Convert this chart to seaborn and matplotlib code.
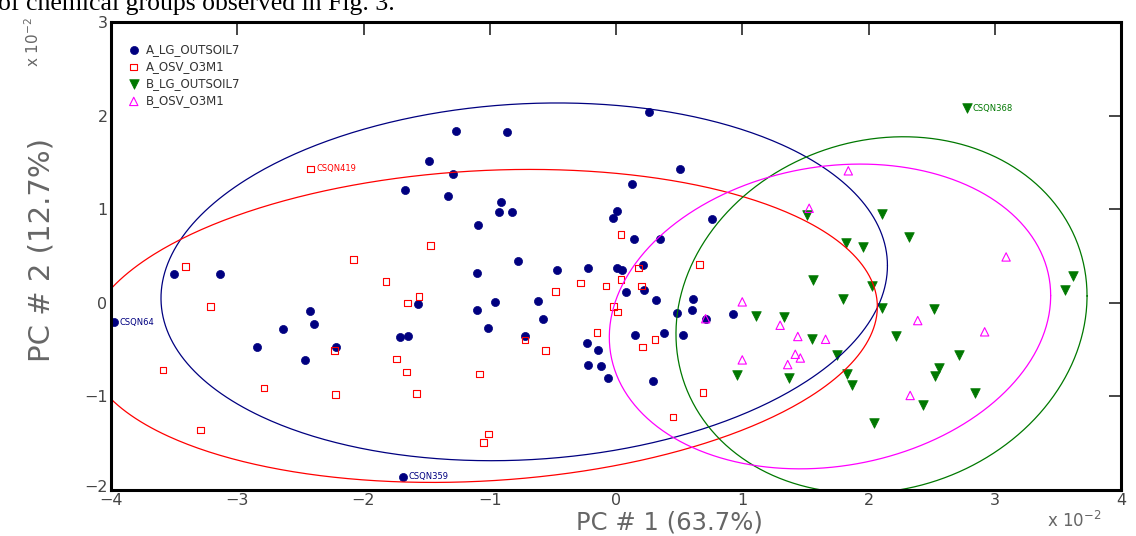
import numpy as np
import pandas as pd
import seaborn as sns
import matplotlib
matplotlib.use('Agg')
import matplotlib.pyplot as plt
import matplotlib.transforms as mtransforms

# PC scores (x 10^-2)
a_lg_x = [-3.98, -3.50, -3.14, -2.84, -2.64, -2.42, -2.39, -2.46, -2.22, -1.71, -1.65, -1.57, -1.69,
          -1.67, -1.48, -1.33, -1.27, -0.86, -1.29, -0.91, -0.93, -0.82, -1.09, -0.78, -1.10, -0.47,
          -0.22, -0.96, -0.62, -1.10, -0.58, -1.01, -0.72, -0.23, -0.14, -0.22, -0.12, -0.06, 0.29,
          0.26, 0.51, 0.13, 0.01, -0.02, 0.76, 0.14, 0.35, 0.01, 0.05, 0.21, 0.08, 0.22, 0.32, 0.61,
          0.48, 0.60, 0.71, 0.93, 0.15, 0.38, 0.53]
a_lg_y = [-0.21, 0.31, 0.31, -0.47, -0.28, -0.09, -0.23, -0.61, -0.47, -0.37, -0.35, -0.01, -1.86,
          1.20, 1.51, 1.14, 1.84, 1.82, 1.38, 1.08, 0.97, 0.97, 0.83, 0.45, 0.32, 0.35,
          0.37, 0.01, 0.02, -0.08, -0.17, -0.27, -0.35, -0.43, -0.50, -0.66, -0.67, -0.80, -0.84,
          2.04, 1.43, 1.27, 0.98, 0.91, 0.89, 0.68, 0.68, 0.37, 0.35, 0.40, 0.12, 0.14, 0.03, 0.04,
          -0.11, -0.08, -0.17, -0.12, -0.34, -0.32, -0.34]

a_osv_x = [-3.41, -3.21, -2.42, -2.08, -1.82, -1.47, -1.56, -1.65, -3.59, -2.79, -2.23, -2.22,
           -1.74, -1.66, -1.58, -1.08, -1.01, -1.05, -3.29, -0.72, -0.56, -0.48, -0.28, -0.15,
           0.04, 0.18, 0.66, -0.08, 0.04, 0.20, -0.02, 0.01, 0.31, 0.21, 0.69, 0.45]
a_osv_y = [0.39, -0.04, 1.43, 0.46, 0.23, 0.61, 0.07, 0.00, -0.72, -0.91, -0.51, -0.98,
           -0.60, -0.74, -0.97, -0.76, -1.40, -1.49, -1.36, -0.40, -0.51, 0.12, 0.21, -0.32,
           0.73, 0.37, 0.41, 0.18, 0.25, 0.18, -0.04, -0.10, -0.39, -0.47, -0.96, -1.22]

b_lg_x = [2.78, 1.51, 2.11, 2.32, 1.82, 1.96, 1.56, 3.62, 3.56, 2.03, 1.80, 2.11, 2.52, 1.11,
          1.33, 2.22, 1.55, 1.75, 2.72, 2.56, 2.53, 0.96, 1.37, 1.83, 1.87, 2.84, 2.43, 2.04]
b_lg_y = [2.08, 0.94, 0.95, 0.70, 0.64, 0.60, 0.24, 0.29, 0.14, 0.18, 0.04, -0.06, -0.07, -0.14,
          -0.15, -0.35, -0.39, -0.56, -0.56, -0.70, -0.78, -0.77, -0.80, -0.76, -0.88, -0.96, -1.09, -1.28]

b_osv_x = [1.84, 1.53, 3.09, 1.00, 0.71, 2.39, 1.30, 2.92, 1.44, 1.66, 1.42, 1.46, 1.00, 1.36, 2.33]
b_osv_y = [1.41, 1.01, 0.49, 0.01, -0.17, -0.19, -0.24, -0.31, -0.36, -0.39, -0.55, -0.59, -0.61, -0.66, -0.99]

groups = ['A_LG_OUTSOIL7', 'A_OSV_O3M1', 'B_LG_OUTSOIL7', 'B_OSV_O3M1']
colors = ['#000080', '#ff0000', '#007800', '#ff00ff']

# confidence ellipses: centre, half extents, y offset at the rightmost point
ell_cx = [-0.727, -1.067, 2.103, 1.695]
ell_cy = [0.224, -0.247, -0.130, -0.146]
ell_ax = [2.877, 3.137, 1.628, 1.748]
ell_ay = [1.911, 1.672, 1.904, 1.628]
ell_tilt = [0.174, 0.205, 0.203, 0.222]

# labelled samples: (group, index in that group, name)
point_labels = [(0, 0, 'CSQN64'), (0, 12, 'CSQN359'), (1, 2, 'CSQN419'), (2, 0, 'CSQN368')]

xs = [a_lg_x, a_osv_x, b_lg_x, b_osv_x]
ys = [a_lg_y, a_osv_y, b_lg_y, b_osv_y]
df = pd.concat([pd.DataFrame({'pc1': x, 'pc2': y, 'group': g}) for x, y, g in zip(xs, ys, groups)],
               ignore_index=True)

sns.set_style('white')
plt.rcParams['font.family'] = ['DejaVu Sans']

fig = plt.figure(figsize=(11.36, 5.36), dpi=100)
ax = fig.add_axes([111 / 1136, 1 - 490 / 536, 1010 / 1136, 468 / 536])

# ellipses
t = np.linspace(0, 2 * np.pi, 500)
for i, c in enumerate(colors):
    d = np.sqrt(ell_ay[i] ** 2 - ell_tilt[i] ** 2)
    ex = ell_cx[i] + ell_ax[i] * np.cos(t)
    ey = ell_cy[i] + ell_tilt[i] * np.cos(t) + d * np.sin(t)
    sns.lineplot(x=ex, y=ey, sort=False, estimator=None, color=c, linewidth=0.9, ax=ax)

styles = [dict(marker='o', s=34, facecolor=colors[0], edgecolor=colors[0], linewidth=0.5),
          dict(marker='s', s=22, facecolor='none', edgecolor=colors[1], linewidth=0.8),
          dict(marker='v', s=48, facecolor=colors[2], edgecolor=colors[2], linewidth=0.5),
          dict(marker='^', s=36, facecolor='none', edgecolor=colors[3], linewidth=0.8)]
for g, c, st in zip(groups, colors, styles):
    sns.scatterplot(data=df[df['group'] == g], x='pc1', y='pc2', color=c, label=g, ax=ax, **st)

for gi, idx, name in point_labels:
    ax.annotate(name, (xs[gi][idx], ys[gi][idx]), xytext=(4, 0), textcoords='offset points',
                va='center', ha='left', fontsize=6, color=colors[gi])

ax.set_xlim(-4, 4)
ax.set_ylim(-2, 3)
ax.set_xticks(range(-4, 5))
ax.set_yticks(range(-2, 4))
ax.tick_params(direction='in', length=9, width=1.2, top=True, right=True,
               labelsize=11.5, labelcolor='#444444', pad=2.5)
# lowest y label sits a little above its tick, clear of the x labels
lift = mtransforms.ScaledTranslation(0, 4 / 100, fig.dpi_scale_trans)
low = ax.get_yticklabels()[0]
low.set_transform(low.get_transform() + lift)
for sp in ax.spines.values():
    sp.set_linewidth(2.2)
    sp.set_color('black')

ax.set_xlabel('PC # 1 (63.7%)', fontsize=17.5, color='#666666')
ax.xaxis.set_label_coords(0.553, -0.044)
ax.set_ylabel('PC # 2 (12.7%)', fontsize=21, color='#666666')
ax.yaxis.set_label_coords(-0.055, 0.513)

leg = ax.legend(loc='upper left', bbox_to_anchor=(0.012, 0.965), frameon=False, fontsize=8.5,
                handlelength=1.0, handletextpad=0.5, labelspacing=0.35, borderaxespad=0)
for txt in leg.get_texts():
    txt.set_color('#333333')

fig.text(33 / 1136, 1 - 42 / 536, 'x 10$^{-2}$', rotation=90, ha='center', va='center',
         fontsize=11, color='#666666')
fig.text(1047 / 1136, 1 - 521 / 536, 'x 10$^{-2}$', ha='left', va='center',
         fontsize=12, color='#666666')
fig.text(-0.002, 1 - 10 / 536, 'of chemical groups observed in Fig. 3.', ha='left', va='baseline',
         fontsize=18.5, family='Liberation Serif', color='black')

fig.savefig('out.png', dpi=100)
